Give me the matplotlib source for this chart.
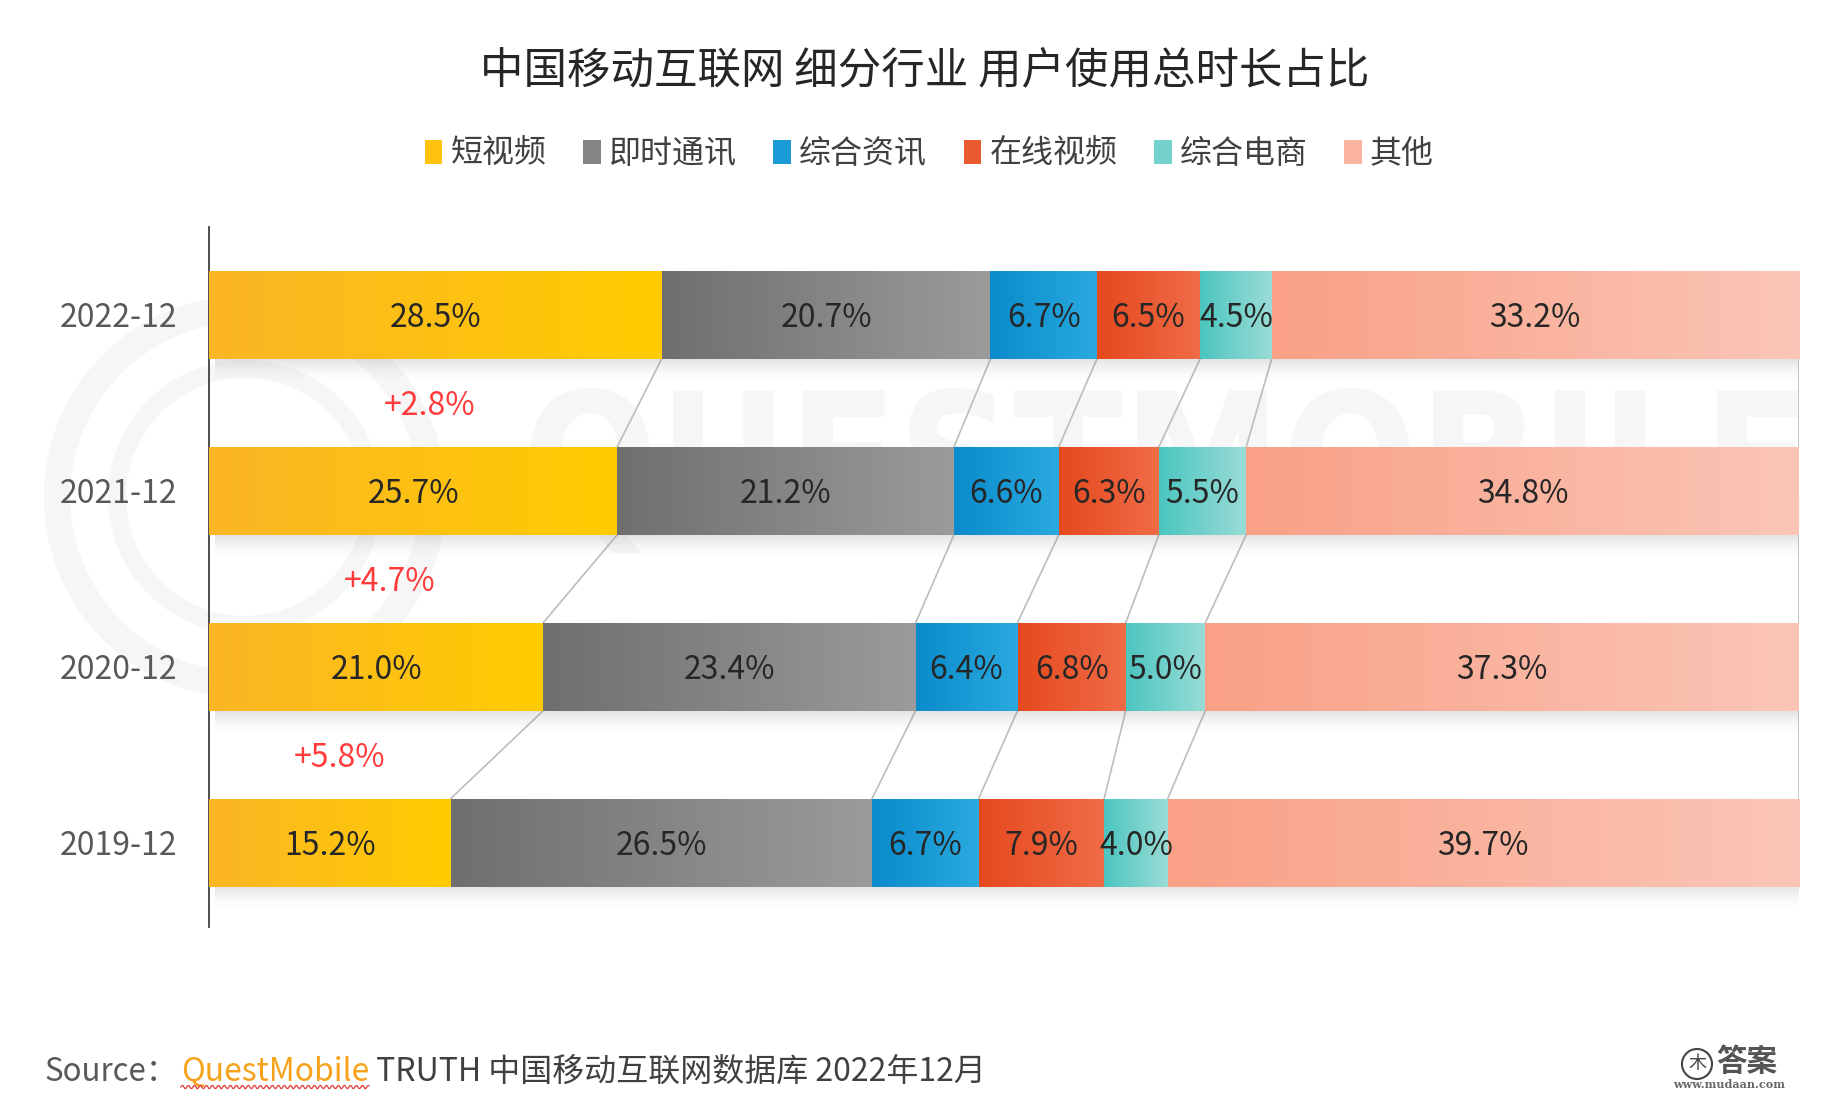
import numpy as np
import matplotlib
matplotlib.use('Agg')
import matplotlib.pyplot as plt
from matplotlib.colors import LinearSegmentedColormap
from matplotlib.patches import Patch, Circle, PathPatch
from matplotlib.lines import Line2D
from matplotlib.textpath import TextPath
from matplotlib.transforms import Affine2D, IdentityTransform
from matplotlib.font_manager import FontProperties

plt.rcParams['font.family'] = ['Noto Sans CJK SC', 'DejaVu Sans']

# data (share of total usage time, %)
periods = ['2019-12', '2020-12', '2021-12', '2022-12']
categories = ['短视频', '即时通讯', '综合资讯', '在线视频', '综合电商', '其他']
short_video = [15.2, 21.0, 25.7, 28.5]
instant_msg = [26.5, 23.4, 21.2, 20.7]
news = [6.7, 6.4, 6.6, 6.7]
online_video = [7.9, 6.8, 6.3, 6.5]
ecommerce = [4.0, 5.0, 5.5, 4.5]
others = [39.7, 37.3, 34.8, 33.2]
series = [short_video, instant_msg, news, online_video, ecommerce, others]

# gradient (left, right) per category
grad_colors = [('#FBB526', '#FFCC00'),
               ('#6F6F6F', '#9B9B9B'),
               ('#0A8BCB', '#2AAAE0'),
               ('#E6491E', '#EF6C47'),
               ('#4CC5BF', '#9ADCD7'),
               ('#F9A086', '#FBC6B7')]
legend_colors = ['#FEC20F', '#858585', '#1A9AD6', '#EA5A32', '#74D1CB', '#FAB49F']

W, H = 1844, 1102
fig = plt.figure(figsize=(W / 100, H / 100), dpi=100)
ax = fig.add_axes([209 / W, 1 - 927 / H, 1590 / W, 700 / H])
ax.set_facecolor('none')

# faint watermark in the background
wm = '#F6F6F6'
fig.add_artist(Circle((245, H - 497), 188, fill=False, lw=19, ec=wm,
                      transform=IdentityTransform(), zorder=-2))
fig.add_artist(Circle((245, H - 497), 128, fill=False, lw=13, ec=wm,
                      transform=IdentityTransform(), zorder=-2))
fig.add_artist(Circle((245, H - 497), 26, fc=wm, ec='none',
                      transform=IdentityTransform(), zorder=-2))
tp = TextPath((0, 0), 'QUESTMOBILE', size=100,
              prop=FontProperties(family='DejaVu Sans', weight='bold'))
ext = tp.get_extents()
tr = Affine2D().translate(-ext.x0, -ext.y0).scale(1270 / ext.width, 165 / ext.height) \
    .translate(530, H - 553)
fig.add_artist(PathPatch(tp, transform=tr, fc=wm, ec='none', zorder=-2))

y = np.arange(len(periods))
h = 0.5
dy = -0.02  # small nudge so text sits on the bar centre like the original
# rows are drawn to a full 100% width (rounded values sum to 99.9-100.1)
totals = np.sum(series, axis=0)
left = np.zeros(len(periods))
bounds = []
for name, vals, (c0, c1) in zip(categories, series, grad_colors):
    vals = np.array(vals)
    widths = vals * 100 / totals
    bars = ax.barh(y, widths, left=left, height=h, color=c1, linewidth=0, zorder=3)
    cmap = LinearSegmentedColormap.from_list(name, [c0, c1])
    for b in bars:
        x0, y0 = b.get_x(), b.get_y()
        ax.imshow(np.linspace(0, 1, 256).reshape(1, -1), cmap=cmap, aspect='auto',
                  extent=[x0, x0 + b.get_width(), y0, y0 + b.get_height()],
                  interpolation='bilinear', zorder=3.1)
    for yi, v, wd, l in zip(y, vals, widths, left):
        ax.text(l + wd / 2, yi + dy, f'{v:.1f}%', ha='center', va='center',
                fontsize=23, color='#262626', zorder=5)
    left = left + widths
    bounds.append(left.copy())

# soft shadow under each bar
shade = np.zeros((30, 1, 4))
shade[..., :3] = 0.5
shade[:, 0, 3] = np.linspace(0.35, 0.0, 30) ** 1.5
for yi in y:
    ax.imshow(shade, aspect='auto', extent=[0.4, 100, yi - h / 2 - 0.13, yi - h / 2],
              interpolation='bilinear', zorder=2)

# connector lines between segment boundaries of consecutive bars
for bnd in bounds:
    for i in range(len(periods) - 1):
        ax.plot([bnd[i + 1], bnd[i]], [i + 1 - h / 2, i + h / 2],
                color='#BDBDBD', lw=1.2, zorder=1)

# growth of short video between periods
for i in range(len(periods) - 1):
    d = short_video[i + 1] - short_video[i]
    ax.text(0.54 * short_video[i], i + 0.5 + dy, f'+{d:.1f}%', ha='center', va='center',
            fontsize=23, color='#FF3B3B', zorder=5)

ax.set_xlim(0, 100)
ax.set_ylim(-0.48, 3.5)
ax.set_xticks([])
ax.set_yticks(y, periods)
ax.tick_params(axis='y', length=0, pad=23, labelsize=23, labelcolor='#595959')
for s in ['top', 'right', 'bottom']:
    ax.spines[s].set_visible(False)
ax.spines['left'].set_color('#404040')
ax.spines['left'].set_linewidth(1.3)

fig.text(0.5016, 1 - 72 / H, '中国移动互联网 细分行业 用户使用总时长占比',
         ha='center', va='center', fontsize=31.3, color='#262626')

handles = [Patch(facecolor=c, edgecolor='none') for c in legend_colors]
fig.legend(handles, categories, loc='center', bbox_to_anchor=(0.504, 1 - 154 / H),
           ncol=6, frameon=False, fontsize=23, handlelength=0.55, handleheight=0.75,
           handletextpad=0.25, columnspacing=1.15, labelcolor='#404040')

# source line
t1 = fig.text(45 / W, 1 - 1072 / H, 'Source：', fontsize=22.5, color='#595959', va='center')
t2 = ax.annotate('QuestMobile', xy=(1, 0.5), xycoords=t1, xytext=(2, 0),
                 textcoords='offset points', va='center', fontsize=23, color='#F7A21B',
                 annotation_clip=False)
t3 = ax.annotate(' TRUTH 中国移动互联网数据库 2022年12月', xy=(1, 0.5), xycoords=t2,
                 va='center', fontsize=23, color='#404040', annotation_clip=False)

# small site mark at bottom right
fig.add_artist(Circle((1697, H - 1064), 15, fill=False, lw=1.5, ec='#444444',
                      transform=IdentityTransform()))
fig.text(1697 / W, 1 - 1064 / H, '木', ha='center', va='center', fontsize=13,
         color='#444444')
fig.text(1716 / W, 1 - 1062 / H, '答案', ha='left', va='center', fontsize=22,
         fontweight='bold', color='#555555')
fig.text(1729 / W, 1 - 1085 / H, 'www.mudaan.com', ha='center', va='center',
         fontsize=8, family='DejaVu Serif', fontweight='bold', color='#666666')

# wavy underline under QuestMobile
fig.canvas.draw()
bb = t2.get_window_extent()
xs = np.arange(bb.x0, bb.x1, 0.5)
ys = bb.y0 + 1 + 1.6 * np.sin((xs - bb.x0) * 2 * np.pi / 6)
fig.add_artist(Line2D(xs, ys, color='#E23B3B', lw=0.9, transform=IdentityTransform()))

fig.savefig('out.png', dpi=100)
